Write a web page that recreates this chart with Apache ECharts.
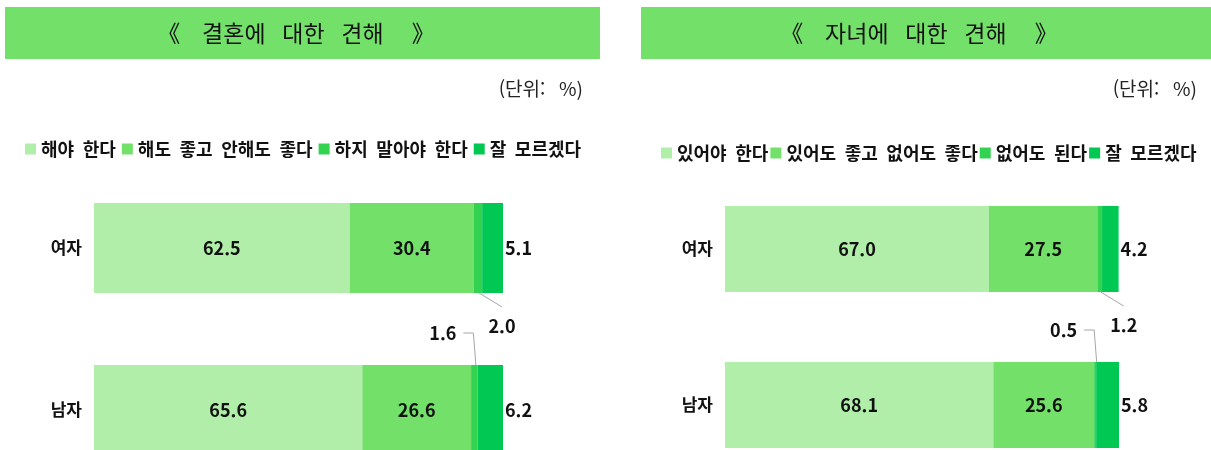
<!DOCTYPE html>
<html lang="ko">
<head>
<meta charset="utf-8">
<title>결혼 및 자녀에 대한 견해</title>
<script src="https://cdn.jsdelivr.net/npm/echarts@6/dist/echarts.min.js"></script>
<style>
  html, body { margin: 0; padding: 0; background: #fff; }
  #chart { width: 1211px; height: 450px; }
</style>
</head>
<body>
<div id="chart"></div>
<script>
// Groups shown on the vertical axis
const groups = ['여자', '남자'];

// 결혼에 대한 견해 (%)
const marriageLegend = ['해야 한다', '해도 좋고 안해도 좋다', '하지 말아야 한다', '잘 모르겠다'];
const marriageShould = [62.5, 65.6];
const marriageEither = [30.4, 26.6];
const marriageShouldNot = [2.0, 1.6];
const marriageUnsure = [5.1, 6.2];

// 자녀에 대한 견해 (%)
const childLegend = ['있어야 한다', '있어도 좋고 없어도 좋다', '없어도 된다', '잘 모르겠다'];
const childShould = [67.0, 68.1];
const childEither = [27.5, 25.6];
const childNone = [1.2, 0.5];
const childUnsure = [4.2, 5.8];

const titles = ['결혼에 대한 견해', '자녀에 대한 견해'];
const unitText = '(단위: %)';

const colors = ['#b1eeaa', '#73e06a', '#33d250', '#00c853'];
const FONT = '"Noto Sans CJK KR", "Noto Sans", sans-serif';

// The CJK font's space is very narrow; widen word gaps in Korean text
const wide = s => s.replace(/ /g, '\u2002 ');
const legendText = s => s.replace(/ /g, '\u2005 ');
const titleText = s => '《\u2002  ' + wide(s) + '\u2002\u2002 》';
const fmt = p => Number(p.value).toFixed(1);

const BAR_W = [90, 86];

// Small segments have their value placed off the bar:
// first row below-right, second row above-left (leader lines drawn separately).
function smallLabelLayout(p) {
  const r = p.rect;
  const cx = r.x + r.width / 2;
  if (p.dataIndex === 0) {
    return { x: cx + 24, y: r.y + r.height + 33, align: 'center', verticalAlign: 'middle' };
  }
  return { x: cx - 18, y: r.y - 32, align: 'right', verticalAlign: 'middle' };
}

const valueLabel = {
  fontFamily: FONT, fontWeight: 'bold', fontSize: 18, color: '#111', formatter: fmt
};

function panelSeries(names, sets, grid) {
  return sets.map((data, i) => {
    const s = {
      name: names[i], type: 'bar', stack: 'total' + grid,
      xAxisIndex: grid, yAxisIndex: grid,
      data: data,
      barWidth: BAR_W[grid],
      itemStyle: { color: colors[i] },
      emphasis: { disabled: true },
      label: Object.assign({ show: true }, valueLabel)
    };
    if (i < 2) {
      s.label.position = 'inside';
    } else if (i === 2) {
      s.label.position = 'inside';
      s.labelLayout = smallLabelLayout;
    } else {
      s.label.position = 'right';
      s.label.distance = 2;
    }
    return s;
  });
}

const catAxis = (grid) => ({
  type: 'category', gridIndex: grid, data: groups, inverse: true,
  axisLine: { show: false }, axisTick: { show: false },
  axisLabel: { fontFamily: FONT, fontWeight: 'bold', fontSize: 17, color: '#111', margin: 12 }
});
const valAxis = (grid) => ({ type: 'value', gridIndex: grid, min: 0, max: 100, show: false });

const legendBase = {
  orient: 'horizontal', itemWidth: 11, itemHeight: 11, itemGap: 6, padding: 0,
  width: 580, icon: 'rect', selectedMode: false, formatter: legendText,
  textStyle: { fontFamily: FONT, fontWeight: 'bold', fontSize: 18, color: '#111' }
};

const titleFont = '23px ' + FONT;
const unitFont = '19px ' + FONT;
const unitLabel = wide(unitText);

const baseGraphic = [
  { type: 'rect', shape: { x: 5, y: 7, width: 595, height: 52 }, style: { fill: '#73e06a' }, silent: true },
  { type: 'rect', shape: { x: 641, y: 7, width: 570, height: 52 }, style: { fill: '#73e06a' }, silent: true },
  { type: 'text', x: 296, y: 33, style: { text: titleText(titles[0]), fill: '#111', font: titleFont, align: 'center', verticalAlign: 'middle' }, silent: true },
  { type: 'text', x: 919, y: 33, style: { text: titleText(titles[1]), fill: '#111', font: titleFont, align: 'center', verticalAlign: 'middle' }, silent: true },
  { type: 'text', x: 583, y: 89, style: { text: unitLabel, fill: '#222', font: unitFont, align: 'right', verticalAlign: 'middle' }, silent: true },
  { type: 'text', x: 1197, y: 89, style: { text: unitLabel, fill: '#222', font: unitFont, align: 'right', verticalAlign: 'middle' }, silent: true }
];

const chart = echarts.init(document.getElementById('chart'), null, { renderer: 'canvas' });
chart.setOption({
  animation: false,
  backgroundColor: '#fff',
  legend: [
    Object.assign({}, legendBase, { left: 25, top: 140, data: marriageLegend }),
    Object.assign({}, legendBase, { left: 661, top: 144, width: 548, itemGap: 2, data: childLegend })
  ],
  grid: [
    { left: 94, width: 409, top: 167, height: 324, outerBoundsMode: 'none' },
    { left: 725, width: 394, top: 171, height: 312, outerBoundsMode: 'none' }
  ],
  xAxis: [valAxis(0), valAxis(1)],
  yAxis: [catAxis(0), catAxis(1)],
  series: [].concat(
    panelSeries(marriageLegend, [marriageShould, marriageEither, marriageShouldNot, marriageUnsure], 0),
    panelSeries(childLegend, [childShould, childEither, childNone, childUnsure], 1)
  )
});

// Leader lines from the thin third segments to their moved labels,
// positioned through the axes' own scales.
const leaderStyle = { stroke: '#a6a6a6', lineWidth: 1, fill: null };
const leaders = [];
[[marriageShould, marriageEither, marriageShouldNot], [childShould, childEither, childNone]].forEach((sets, g) => {
  const [a, b, c] = sets;
  for (let i = 0; i < groups.length; i++) {
    const mid = a[i] + b[i] + c[i] / 2;
    const [cx, cy] = chart.convertToPixel({ gridIndex: g }, [mid, i]);
    const half = BAR_W[g] / 2;
    let pts;
    if (i === 0) {
      const by = cy + half;
      pts = [[cx + 1, by], [cx + 24, by + 14]];
    } else {
      const ty = cy - half;
      pts = [[cx + 1.5, ty], [cx - 1, ty - 32], [cx - 11, ty - 32]];
    }
    leaders.push({ type: 'polyline', shape: { points: pts }, style: leaderStyle, silent: true, z: 10 });
  }
});

chart.setOption({ graphic: baseGraphic.concat(leaders) });
</script>
</body>
</html>
